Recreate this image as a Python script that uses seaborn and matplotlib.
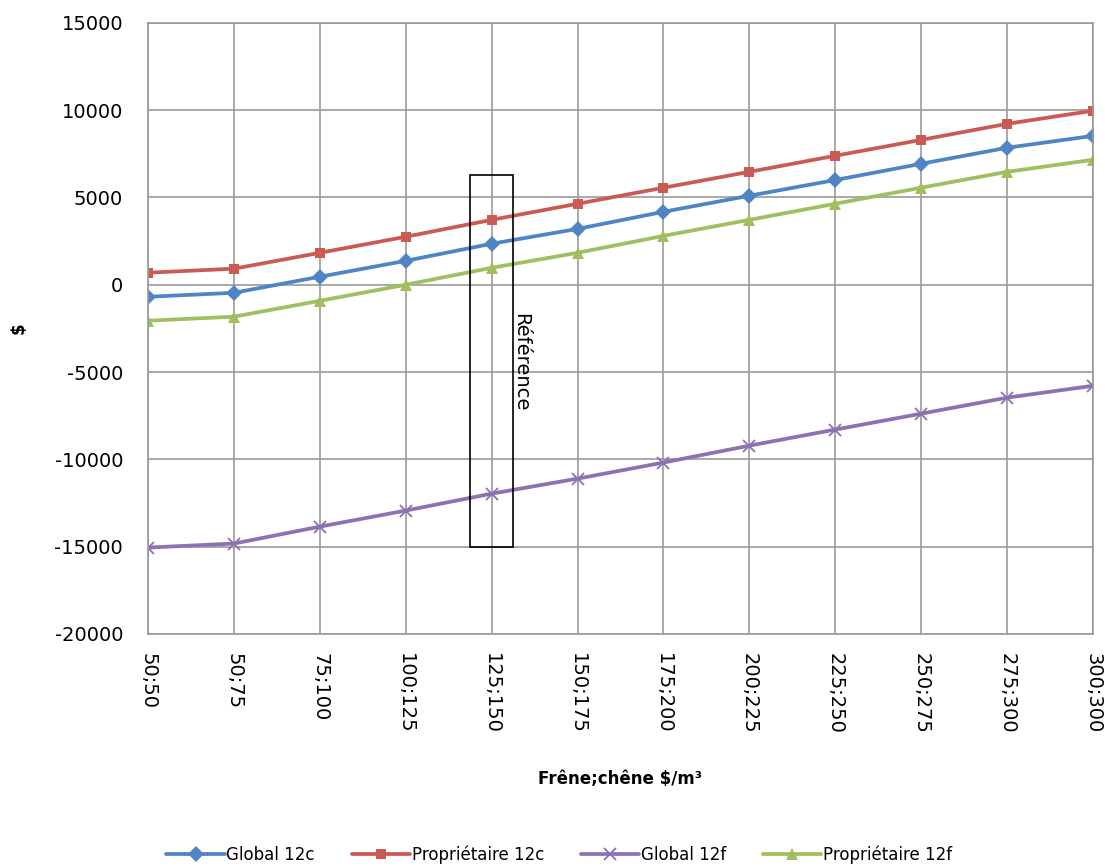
import numpy as np
import pandas as pd
import matplotlib
matplotlib.use("Agg")
import matplotlib.pyplot as plt
from matplotlib.patches import Rectangle
import seaborn as sns

# price pairs (frene;chene $/m3)
categories = ["50;50", "50;75", "75;100", "100;125", "125;150", "150;175",
              "175;200", "200;225", "225;250", "250;275", "275;300", "300;300"]

global_12c = [-690, -460, 460, 1370, 2350, 3200, 4180, 5100, 6000, 6930, 7850, 8530]
proprio_12c = [690, 920, 1830, 2750, 3720, 4640, 5560, 6470, 7390, 8300, 9220, 9970]
global_12f = [-15060, -14830, -13860, -12940, -11970, -11110, -10190, -9220, -8300, -7390, -6470, -5790]
proprio_12f = [-2060, -1830, -920, 0, 970, 1830, 2800, 3720, 4640, 5560, 6470, 7160]

ref_index = 4
ref_top = 6300
ref_bottom = -15000

sns.set_theme(style="white")
plt.rcParams['font.family'] = ['DejaVu Sans']
plt.rcParams['text.color'] = 'black'
plt.rcParams['axes.labelcolor'] = 'black'
plt.rcParams['xtick.color'] = 'black'
plt.rcParams['ytick.color'] = 'black'

series = [
    ("Global 12c", global_12c, "#4F85C4", "D", 8, 0),
    ("Propriétaire 12c", proprio_12c, "#CB5A55", "s", 7, 0),
    ("Global 12f", global_12f, "#8D72B3", "x", 8, 1.3),
    ("Propriétaire 12f", proprio_12f, "#A0BF5E", "^", 9, 0),
]

fig = plt.figure(figsize=(11.05, 8.67), dpi=100)
ax = fig.add_axes([0.134, 0.269, 0.855, 0.7045])

x = np.arange(len(categories))
for name, vals, color, marker, ms, mew in series:
    df = pd.DataFrame({"x": x, "y": vals})
    sns.lineplot(data=df, x="x", y="y", ax=ax, color=color, linewidth=2.7,
                 marker=marker, markersize=ms, label=name, markeredgecolor=color,
                 markeredgewidth=mew)

ax.add_patch(Rectangle((ref_index - 0.25, ref_bottom), 0.5, ref_top - ref_bottom,
                       fill=False, edgecolor="black", linewidth=1.2, zorder=5))
ax.text(ref_index + 0.23, -1600, "Référence", rotation=270, ha="left", va="top",
        fontsize=14, color="black")

ax.set_xlim(0, len(categories) - 1)
ax.set_ylim(-20000, 15000)
ax.set_yticks(np.arange(-20000, 15001, 5000))
ax.set_yticklabels([str(v) for v in range(-20000, 15001, 5000)], fontsize=14)
ax.set_xticks(x)
ax.set_xticklabels(categories, rotation=270, fontsize=14)
ax.tick_params(axis="x", length=0, pad=14)
ax.tick_params(axis="y", length=0, pad=18)

ax.grid(True, color="#9A9A9A", linewidth=1.2)
ax.set_axisbelow(True)
for s in ax.spines.values():
    s.set_color("#9A9A9A")
    s.set_linewidth(1.2)

ax.set_xlabel("Frêne;chêne $/m³", fontsize=12, fontweight="bold", labelpad=26)
ax.set_ylabel("$", fontsize=12, fontweight="bold", rotation=90)
ax.yaxis.set_label_coords(-0.127, 0.5)

ax.legend(loc="center", bbox_to_anchor=(0.435, -0.362), ncol=4, frameon=False,
          fontsize=12, handlelength=3.5, columnspacing=2.2, handletextpad=0.1)

fig.savefig("out.png", dpi=100)
